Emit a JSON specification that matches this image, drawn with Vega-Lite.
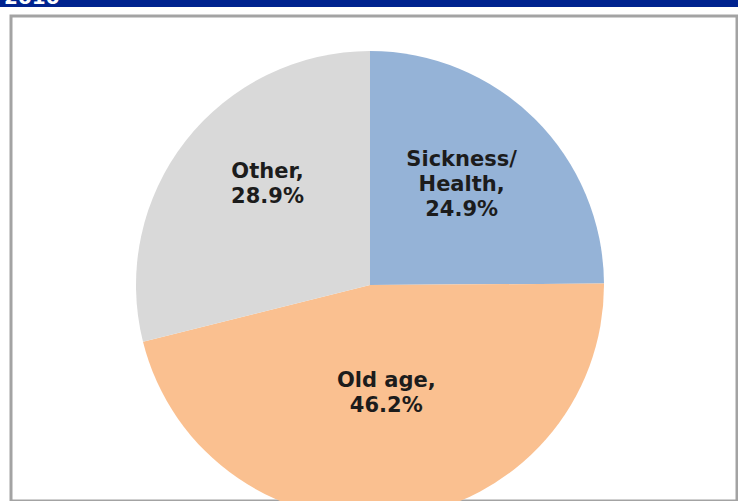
{
  "$schema": "https://vega.github.io/schema/vega-lite/v6.json",
  "padding": 0,
  "spacing": 7,
  "background": "white",
  "vconcat": [
    {
      "width": 738,
      "height": 7,
      "view": {"fill": "#00238F", "stroke": null},
      "data": {"values": [{"year": "2010"}]},
      "mark": {
        "type": "text",
        "clip": true,
        "align": "left",
        "baseline": "alphabetic",
        "x": 4,
        "y": 4,
        "font": "DejaVu Sans",
        "fontSize": 20,
        "fontWeight": "bold",
        "color": "white"
      },
      "encoding": {"text": {"field": "year"}}
    },
    {
      "spacing": 8,
      "hconcat": [
        {
          "width": 1,
          "height": 485,
          "view": {"stroke": null},
          "data": {"values": []},
          "mark": "point"
        },
        {
          "width": 726,
          "height": 485,
          "view": {"stroke": "#a3a3a3", "strokeWidth": 3, "fill": "white"},
          "data": {
            "values": [
              {"category": "Sickness/Health", "share": 24.9, "rank": 1},
              {"category": "Old age", "share": 46.2, "rank": 2},
              {"category": "Other", "share": 28.9, "rank": 3}
            ]
          },
          "transform": [
            {
              "calculate": "replace(datum.category, '/', '/\\n') + ',\\n' + format(datum.share, '.1f') + '%'",
              "as": "label"
            }
          ],
          "encoding": {
            "theta": {"field": "share", "type": "quantitative", "stack": true},
            "order": {"field": "rank", "type": "quantitative"}
          },
          "layer": [
            {
              "mark": {
                "type": "arc",
                "outerRadius": 234,
                "x": 359,
                "y": 269,
                "clip": true,
                "stroke": null
              },
              "encoding": {
                "color": {
                  "field": "category",
                  "type": "nominal",
                  "scale": {
                    "domain": ["Sickness/Health", "Old age", "Other"],
                    "range": ["#95B3D7", "#FAC090", "#D9D9D9"]
                  },
                  "legend": null
                }
              }
            },
            {
              "mark": {
                "type": "text",
                "radius": 130,
                "x": 359,
                "y": 269,
                "dy": -33,
                "align": "center",
                "baseline": "middle",
                "lineBreak": "\n",
                "lineHeight": 25,
                "font": "DejaVu Sans",
                "fontSize": 21,
                "fontWeight": "bold",
                "color": "#1c1c1c"
              },
              "encoding": {"text": {"field": "label", "type": "nominal"}}
            }
          ]
        }
      ]
    }
  ]
}
